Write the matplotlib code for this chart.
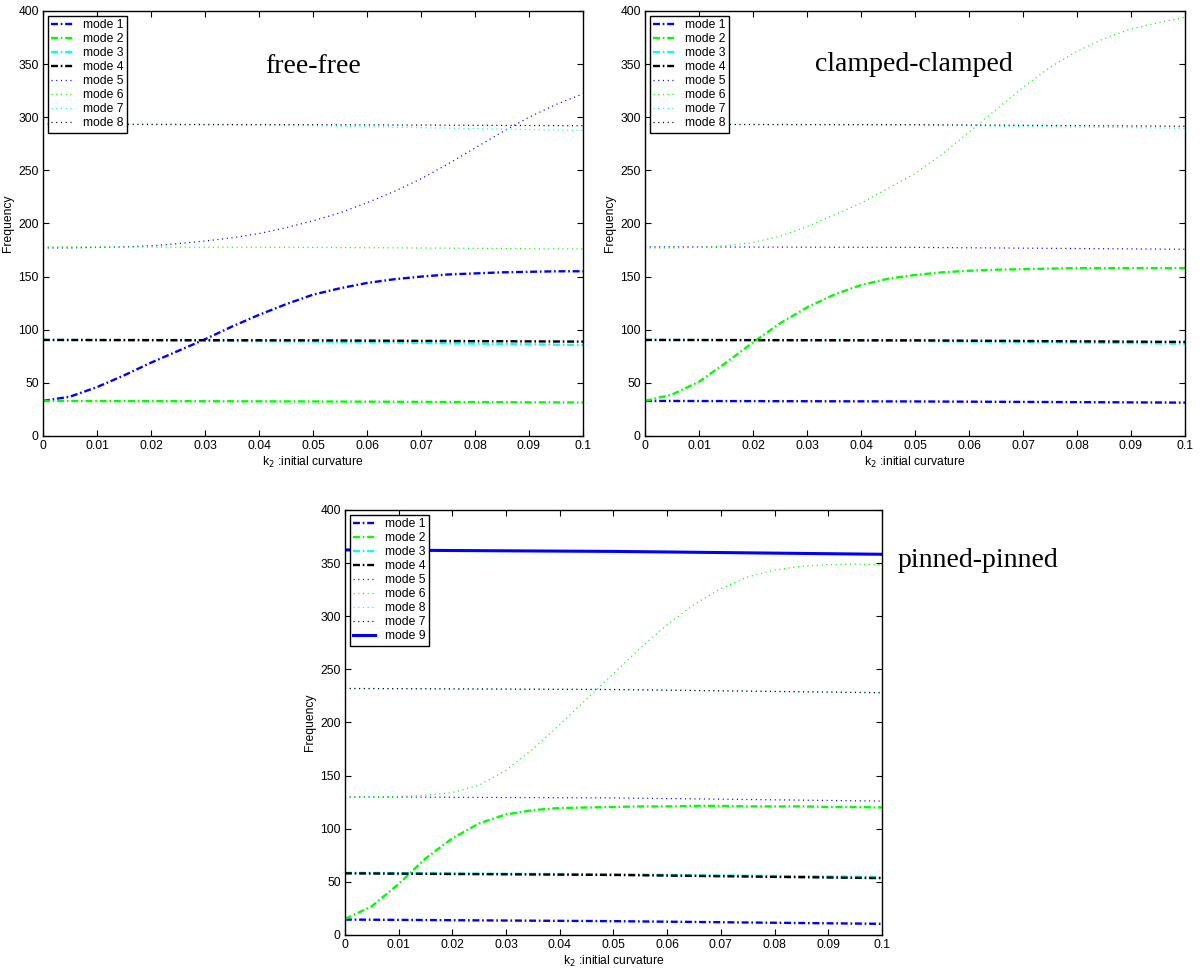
import matplotlib
matplotlib.use('Agg')
import matplotlib.pyplot as plt

plt.rcParams['font.family'] = ['Liberation Sans', 'DejaVu Sans']
plt.rcParams['font.size'] = 8
plt.rcParams['lines.scale_dashes'] = False

# curvature values (x axis)
k2 = [0.0, 0.005, 0.01, 0.015, 0.02, 0.025, 0.03, 0.035, 0.04, 0.045, 0.05,
      0.055, 0.06, 0.065, 0.07, 0.075, 0.08, 0.085, 0.09, 0.095, 0.1]
k2_flat = [0.0, 0.05, 0.1]

# free-free
ff_mode1 = [33, 37, 46, 57, 69, 80, 91, 103, 114, 124, 133,
            139, 144, 147.5, 150, 152, 153, 154, 154.5, 155, 155]
ff_mode2 = [33, 32.5, 31.5]
ff_mode3 = [90.4, 89, 85.6]
ff_mode4 = [90.4, 90, 88.8]
ff_mode5 = [177, 177, 177.5, 178, 179, 181, 183.5, 186.5, 190.5, 196, 202.5,
            210, 219.5, 230, 242, 256, 271, 286, 300, 312, 322]
ff_mode6 = [178, 177.5, 176]
ff_mode7 = [293.5, 292, 287.5]
ff_mode8 = [293.5, 293, 292]

# clamped-clamped
cc_mode1 = [33, 32.5, 31.4]
cc_mode2 = [33, 39, 51, 69, 88, 106, 121, 133, 142, 148, 151.5,
            154, 155.5, 156.5, 157, 157.5, 158, 158, 158, 158, 158]
cc_mode3 = [90.4, 89.5, 86.9]
cc_mode4 = [90.4, 90, 88.5]
cc_mode5 = [178, 177.5, 175.7]
cc_mode6 = [177, 177, 177.5, 179, 182, 188, 197, 208, 219, 233, 247,
            265, 286, 307, 328, 347, 362, 374, 383, 389, 394]
cc_mode7 = [293.3, 292.5, 289.6]
cc_mode8 = [293.3, 293, 291.5]

# pinned-pinned
pp_mode1 = [14.5, 13, 10.5]
pp_mode2 = [15, 27, 48, 72, 91, 105, 113.5, 117.5, 119.5, 120, 120.5,
            121, 121, 121.5, 121.5, 121, 121, 121, 120.5, 120.5, 120]
pp_mode3 = [58.5, 57, 54.5]
pp_mode4 = [58, 56.5, 53.5]
pp_mode5 = [130, 129, 126]
pp_mode6 = [130, 130, 130.5, 131.5, 134, 141, 155, 175, 198, 222, 246,
            270, 292, 311, 326, 337, 343.5, 347, 348.5, 349, 348.5]
pp_mode8 = [232, 231, 228]
pp_mode7 = [232, 231, 228]
pp_mode9 = [362.4, 361, 358.3]

xticks = [0, 0.01, 0.02, 0.03, 0.04, 0.05, 0.06, 0.07, 0.08, 0.09, 0.1]
xticklabels = ['0', '0.01', '0.02', '0.03', '0.04', '0.05', '0.06', '0.07', '0.08', '0.09', '0.1']
yticks = [0, 50, 100, 150, 200, 250, 300, 350, 400]

dashdot = dict(dashes=(5, 2, 1.2, 2), linewidth=1.7)
dotted = dict(dashes=(0.8, 2.6), linewidth=0.9)
solid = dict(linestyle='-', linewidth=2.2)

fig = plt.figure(figsize=(12.04, 9.71), dpi=100)


def panel(rect, curves):
    ax = fig.add_axes(rect)
    for label, x, y, color, style in curves:
        ax.plot(x, y, color=color, label=label, **style)
    ax.set_xlim(0, 0.1)
    ax.set_ylim(0, 400)
    ax.set_xticks(xticks)
    ax.set_xticklabels(xticklabels)
    ax.set_yticks(yticks)
    ax.tick_params(direction='in', top=True, right=True, length=4, width=0.8,
                   labelsize=8.7, pad=3)
    for s in ax.spines.values():
        s.set_linewidth(1.0)
    ax.set_xlabel('k$_2$ :initial curvature', fontsize=8.7, labelpad=2)
    ax.set_ylabel('Frequency', fontsize=8.7, labelpad=3)
    leg = ax.legend(loc='upper left', fontsize=8.7, frameon=True, fancybox=False,
                    edgecolor='black', framealpha=1, borderaxespad=0.4,
                    handlelength=1.8, handletextpad=0.8, labelspacing=0.16,
                    borderpad=0.3)
    leg.get_frame().set_linewidth(1.0)
    return ax


panel([0.0357, 0.551, 0.4485, 0.4377], [
    ('mode 1', k2, ff_mode1, 'b', dashdot),
    ('mode 2', k2_flat, ff_mode2, 'lime', dashdot),
    ('mode 3', k2_flat, ff_mode3, 'cyan', dashdot),
    ('mode 4', k2_flat, ff_mode4, 'k', dashdot),
    ('mode 5', k2, ff_mode5, 'b', dotted),
    ('mode 6', k2_flat, ff_mode6, 'lime', dotted),
    ('mode 7', k2_flat, ff_mode7, 'cyan', dotted),
    ('mode 8', k2_flat, ff_mode8, 'k', dotted),
])

panel([0.5357, 0.551, 0.4485, 0.4377], [
    ('mode 1', k2_flat, cc_mode1, 'b', dashdot),
    ('mode 2', k2, cc_mode2, 'lime', dashdot),
    ('mode 3', k2_flat, cc_mode3, 'cyan', dashdot),
    ('mode 4', k2_flat, cc_mode4, 'k', dashdot),
    ('mode 5', k2_flat, cc_mode5, 'b', dotted),
    ('mode 6', k2, cc_mode6, 'lime', dotted),
    ('mode 7', k2_flat, cc_mode7, 'cyan', dotted),
    ('mode 8', k2_flat, cc_mode8, 'k', dotted),
])

panel([0.2865, 0.0371, 0.446, 0.4377], [
    ('mode 1', k2_flat, pp_mode1, 'b', dashdot),
    ('mode 2', k2, pp_mode2, 'lime', dashdot),
    ('mode 3', k2_flat, pp_mode3, 'cyan', dashdot),
    ('mode 4', k2_flat, pp_mode4, 'k', dashdot),
    ('mode 5', k2_flat, pp_mode5, 'b', dotted),
    ('mode 6', k2, pp_mode6, 'lime', dotted),
    ('mode 8', k2_flat, pp_mode8, 'cyan', dotted),
    ('mode 7', k2_flat, pp_mode7, 'k', dotted),
    ('mode 9', k2_flat, pp_mode9, 'b', solid),
])

serif = ['Liberation Serif', 'DejaVu Serif']
fig.text(0.26, 0.9248, 'free-free', family=serif, fontsize=20, ha='center', va='baseline')
fig.text(0.759, 0.9269, 'clamped-clamped', family=serif, fontsize=20, ha='center', va='baseline')
fig.text(0.812, 0.4163, 'pinned-pinned', family=serif, fontsize=20, ha='center', va='baseline')

fig.savefig('out.png', dpi=100)
